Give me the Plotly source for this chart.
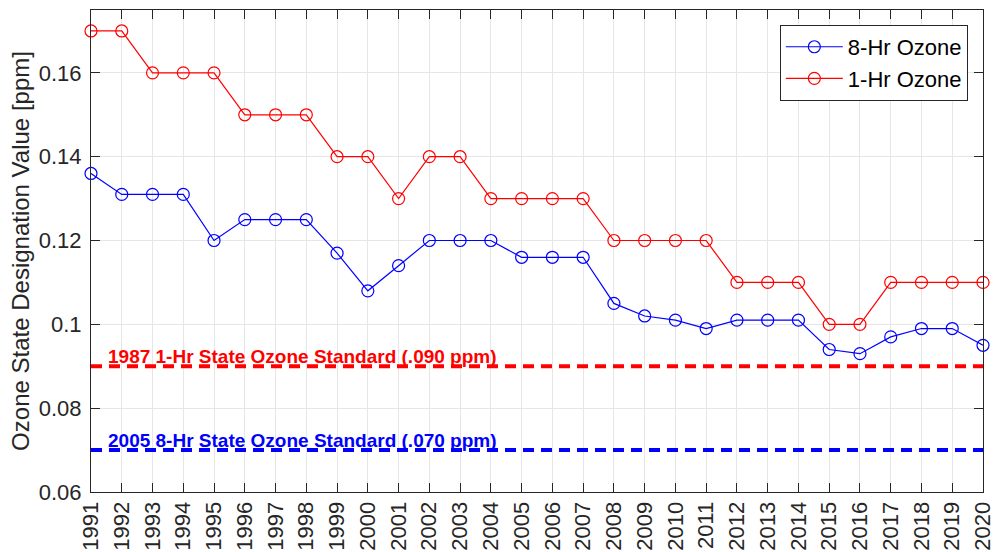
import plotly.graph_objects as go

years = list(range(1991, 2021))
ozone_8hr = [0.136, 0.131, 0.131, 0.131, 0.120, 0.125, 0.125, 0.125, 0.117, 0.108,
             0.114, 0.120, 0.120, 0.120, 0.116, 0.116, 0.116, 0.105, 0.102, 0.101,
             0.099, 0.101, 0.101, 0.101, 0.094, 0.093, 0.097, 0.099, 0.099, 0.095]
ozone_1hr = [0.17, 0.17, 0.16, 0.16, 0.16, 0.15, 0.15, 0.15, 0.14, 0.14,
             0.13, 0.14, 0.14, 0.13, 0.13, 0.13, 0.13, 0.12, 0.12, 0.12,
             0.12, 0.11, 0.11, 0.11, 0.10, 0.10, 0.11, 0.11, 0.11, 0.11]
std_1hr = 0.090
std_8hr = 0.070
std_1hr_label = "1987 1-Hr State Ozone Standard (.090 ppm)"
std_8hr_label = "2005 8-Hr State Ozone Standard (.070 ppm)"

font = "Liberation Sans, Arial, sans-serif"

fig = go.Figure()

# standard lines
fig.add_trace(go.Scatter(x=[years[0], years[-1]], y=[std_1hr, std_1hr], mode="lines",
                         line=dict(color="#ff0000", width=4, dash="11px,7px"), showlegend=False))
fig.add_trace(go.Scatter(x=[years[0], years[-1]], y=[std_8hr, std_8hr], mode="lines",
                         line=dict(color="#0000ff", width=4, dash="11px,7px"), showlegend=False))

fig.add_trace(go.Scatter(x=years, y=ozone_8hr, mode="lines+markers", name="8-Hr Ozone",
                         cliponaxis=False,
                         line=dict(color="#0000ff", width=1.2),
                         marker=dict(symbol="circle-open", size=12, color="#0000ff", line=dict(width=1.2))))
fig.add_trace(go.Scatter(x=years, y=ozone_1hr, mode="lines+markers", name="1-Hr Ozone",
                         cliponaxis=False,
                         line=dict(color="#ff0000", width=1.2),
                         marker=dict(symbol="circle-open", size=12, color="#ff0000", line=dict(width=1.2))))

fig.add_annotation(x=1991.5, y=std_1hr, text="<b>" + std_1hr_label + "</b>", showarrow=False,
                   xanchor="left", yanchor="bottom", yshift=-3,
                   font=dict(family=font, size=19, color="#ff0000"))
fig.add_annotation(x=1991.5, y=std_8hr, text="<b>" + std_8hr_label + "</b>", showarrow=False,
                   xanchor="left", yanchor="bottom", yshift=-3,
                   font=dict(family=font, size=19, color="#0000ff"))

fig.update_layout(
    width=996, height=552,
    margin=dict(l=91, r=13, t=10, b=60),
    paper_bgcolor="white", plot_bgcolor="white",
    font=dict(family=font, color="#262626"),
    legend=dict(x=0.983, y=0.969, xanchor="right", yanchor="top",
                bordercolor="#262626", borderwidth=1, bgcolor="white",
                itemwidth=57, font=dict(size=22, color="#000000"), tracegroupgap=0),
    xaxis=dict(range=[1991, 2020], tickmode="array", tickvals=years,
               ticktext=[str(y) for y in years], tickangle=-90, automargin=False,
               tickfont=dict(size=22), showgrid=True, gridcolor="#e6e6e6",
               showline=True, linecolor="#262626", linewidth=1, mirror="ticks",
               ticks="inside", ticklen=9, tickcolor="#262626", zeroline=False),
    yaxis=dict(range=[0.06, 0.175], tickvals=[0.06, 0.08, 0.1, 0.12, 0.14, 0.16],
               ticktext=["0.06", "0.08", "0.1", "0.12", "0.14", "0.16"], automargin=False,
               tickfont=dict(size=22), showgrid=True, gridcolor="#e6e6e6",
               showline=True, linecolor="#262626", linewidth=1, mirror="ticks",
               ticks="inside", ticklen=9, tickcolor="#262626", zeroline=False,
               ticklabelstandoff=4,
               title=dict(text="Ozone State Designation Value [ppm]", font=dict(size=24), standoff=2)),
)

# drop the page's default body margin so the figure sits at the window origin
fig.write_html("out.html", config={"displayModeBar": False},
               post_script="document.body.style.margin='0';")
